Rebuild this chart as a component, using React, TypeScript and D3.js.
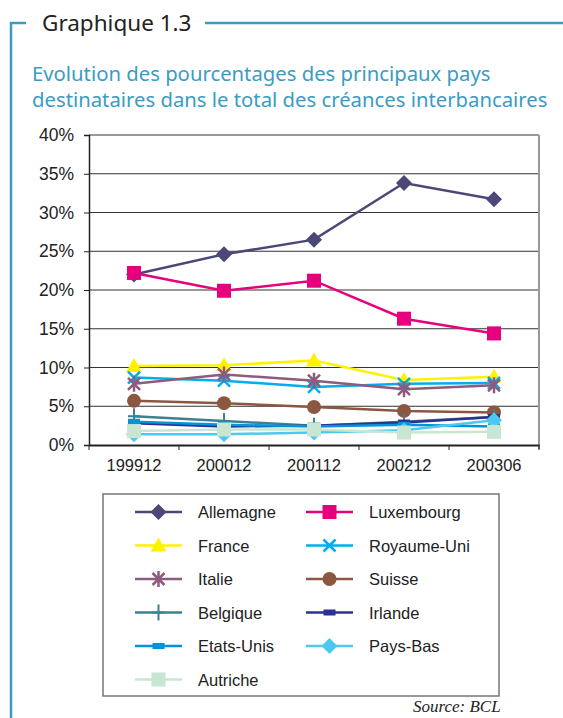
import React, { useRef, useEffect } from "react";
import * as d3 from "d3";

const periods = ["199912", "200012", "200112", "200212", "200306"];
const yTicks = [0, 5, 10, 15, 20, 25, 30, 35, 40];

const allemagne = [22.0, 24.6, 26.5, 33.8, 31.7];
const luxembourg = [22.2, 19.9, 21.2, 16.3, 14.4];
const france = [10.2, 10.3, 10.9, 8.4, 8.8];
const royaumeUni = [8.7, 8.3, 7.5, 7.9, 8.0];
const italie = [7.9, 9.1, 8.3, 7.2, 7.7];
const suisse = [5.7, 5.4, 4.9, 4.4, 4.2];
const belgique = [3.7, 3.1, 2.5, 3.0, 3.6];
const irlande = [2.8, 2.4, 2.5, 2.9, 3.6];
const etatsUnis = [3.0, 2.6, 2.4, 2.6, 2.4];
const paysBas = [1.4, 1.4, 1.6, 1.9, 3.2];
const autriche = [1.8, 2.0, 2.0, 1.6, 1.7];

const seriesNames = [
  "Allemagne", "Luxembourg", "France", "Royaume-Uni", "Italie", "Suisse",
  "Belgique", "Irlande", "Etats-Unis", "Pays-Bas", "Autriche",
];
const seriesValues = [
  allemagne, luxembourg, france, royaumeUni, italie, suisse,
  belgique, irlande, etatsUnis, paysBas, autriche,
];
const seriesColors = [
  "#4b4878", "#e6007e", "#fff200", "#00aeef", "#8e5b7e", "#8b5740",
  "#3f7f96", "#2e3192", "#0095da", "#4dc8f0", "#c8e6d2",
];
const seriesMarkers = [
  "diamond", "square", "triangle", "x", "star", "circle",
  "plus", "dash", "dash", "diamond", "square",
];

const W = 563;
const H = 718;
const plot = { left: 89, right: 539, top: 135, bottom: 445 };

function drawMarker(g, type, x, y, color) {
  if (type === "diamond") {
    g.append("path").attr("d", `M${x},${y - 8}L${x + 8},${y}L${x},${y + 8}L${x - 8},${y}Z`).attr("fill", color);
  } else if (type === "square") {
    g.append("rect").attr("x", x - 7).attr("y", y - 7).attr("width", 14).attr("height", 14).attr("fill", color);
  } else if (type === "triangle") {
    g.append("path").attr("d", `M${x},${y - 8}L${x + 8},${y + 6}L${x - 8},${y + 6}Z`).attr("fill", color);
  } else if (type === "circle") {
    g.append("circle").attr("cx", x).attr("cy", y).attr("r", 7).attr("fill", color);
  } else if (type === "x" || type === "star") {
    const s = 6;
    const p = `M${x - s},${y - s}L${x + s},${y + s}M${x - s},${y + s}L${x + s},${y - s}` +
      (type === "star" ? `M${x},${y - 8}L${x},${y + 8}` : "");
    g.append("path").attr("d", p).attr("stroke", color).attr("stroke-width", 2.5).attr("fill", "none");
  } else if (type === "plus") {
    g.append("path").attr("d", `M${x},${y - 8}L${x},${y + 8}M${x - 6},${y}L${x + 6},${y}`)
      .attr("stroke", color).attr("stroke-width", 2).attr("fill", "none");
  } else if (type === "dash") {
    g.append("rect").attr("x", x - 6).attr("y", y - 3).attr("width", 12).attr("height", 6).attr("fill", color);
  }
}

export default function App() {
  const svgRef = useRef(null);

  useEffect(() => {
    const svg = d3.select(svgRef.current);
    svg.selectAll("*").remove();

    const blue = "#3a9cc5";
    // frame
    svg.append("path").attr("d", `M11,${H}V23H26`).attr("stroke", blue).attr("stroke-width", 2.5).attr("fill", "none");
    svg.append("line").attr("x1", 205).attr("x2", W).attr("y1", 23).attr("y2", 23).attr("stroke", blue).attr("stroke-width", 2.5);
    svg.append("text").attr("x", 42).attr("y", 31).text("Graphique 1.3")
      .attr("font-family", "Noto Sans").attr("font-size", 22.5).attr("fill", "#222");
    svg.append("text").attr("x", 32).attr("y", 81).text("Evolution des pourcentages des principaux pays")
      .attr("font-family", "Noto Sans").attr("font-size", 20.3).attr("fill", blue);
    svg.append("text").attr("x", 32).attr("y", 107).text("destinataires dans le total des créances interbancaires")
      .attr("font-family", "Noto Sans").attr("font-size", 20.3).attr("fill", blue);

    const x = d3.scaleBand().domain(periods).range([plot.left, plot.right]).padding(0);
    const y = d3.scaleLinear().domain([0, 40]).range([plot.bottom, plot.top]);
    const cx = (p) => x(p) + x.bandwidth() / 2;

    // gridlines
    svg.append("g").selectAll("line").data(yTicks.filter((t) => t > 0)).join("line")
      .attr("x1", plot.left).attr("x2", plot.right)
      .attr("y1", (d) => y(d)).attr("y2", (d) => y(d))
      .attr("stroke", "#333").attr("stroke-width", 1);
    svg.append("line").attr("x1", plot.right).attr("x2", plot.right).attr("y1", plot.top).attr("y2", plot.bottom + 4)
      .attr("stroke", "#999").attr("stroke-width", 2);

    // y axis
    const yAxis = svg.append("g").attr("transform", `translate(${plot.left},0)`)
      .call(d3.axisLeft(y).tickValues(yTicks).tickSize(5).tickPadding(10).tickFormat((d) => `${d}%`));
    yAxis.select(".domain").attr("stroke", "#222").attr("stroke-width", 1.5);
    yAxis.selectAll("line").attr("stroke", "#222");
    yAxis.selectAll("text").attr("font-family", "Liberation Sans").attr("font-size", 17.5).attr("fill", "#222");

    // x axis
    const xAxis = svg.append("g").attr("transform", `translate(0,${plot.bottom})`)
      .call(d3.axisBottom(x).tickSize(0).tickPadding(14));
    xAxis.select(".domain").attr("stroke", "#222").attr("stroke-width", 2);
    xAxis.selectAll("text").attr("font-family", "Liberation Sans").attr("font-size", 16.5).attr("fill", "#222");
    svg.append("g").selectAll("line").data([plot.left, ...periods.map((p) => x(p) + x.bandwidth())]).join("line")
      .attr("x1", (d) => d).attr("x2", (d) => d).attr("y1", plot.bottom).attr("y2", plot.bottom + 5)
      .attr("stroke", "#222").attr("stroke-width", 1);

    // series
    const line = d3.line().x((d, i) => cx(periods[i])).y((d) => y(d));
    seriesValues.forEach((vals, si) => {
      const g = svg.append("g");
      g.append("path").attr("d", line(vals)).attr("fill", "none")
        .attr("stroke", seriesColors[si]).attr("stroke-width", 2.5);
      vals.forEach((v, i) => drawMarker(g, seriesMarkers[si], cx(periods[i]), y(v), seriesColors[si]));
    });

    // legend
    const leg = svg.append("g");
    leg.append("rect").attr("x", 103).attr("y", 494).attr("width", 396).attr("height", 202)
      .attr("fill", "none").attr("stroke", "#777").attr("stroke-width", 1.5);
    seriesNames.forEach((name, i) => {
      const col = i % 2;
      const row = Math.floor(i / 2);
      const lx = col === 0 ? 135 : 306;
      const ly = 512 + row * 33.5;
      leg.append("line").attr("x1", lx).attr("x2", lx + 47).attr("y1", ly).attr("y2", ly)
        .attr("stroke", seriesColors[i]).attr("stroke-width", 2.5);
      drawMarker(leg, seriesMarkers[i], lx + 23.5, ly, seriesColors[i]);
      leg.append("text").attr("x", lx + 63).attr("y", ly + 6).text(name)
        .attr("font-family", "Liberation Sans").attr("font-size", 16.5).attr("fill", "#222");
    });

    svg.append("text").attr("x", 413).attr("y", 712).text("Source:  BCL")
      .attr("font-family", "Liberation Serif").attr("font-style", "italic").attr("font-size", 17).attr("fill", "#222");
  }, []);

  return (
    <svg ref={svgRef} width={W} height={H} style={{ position: "absolute", left: 0, top: 0, background: "#fff" }} />
  );
}
